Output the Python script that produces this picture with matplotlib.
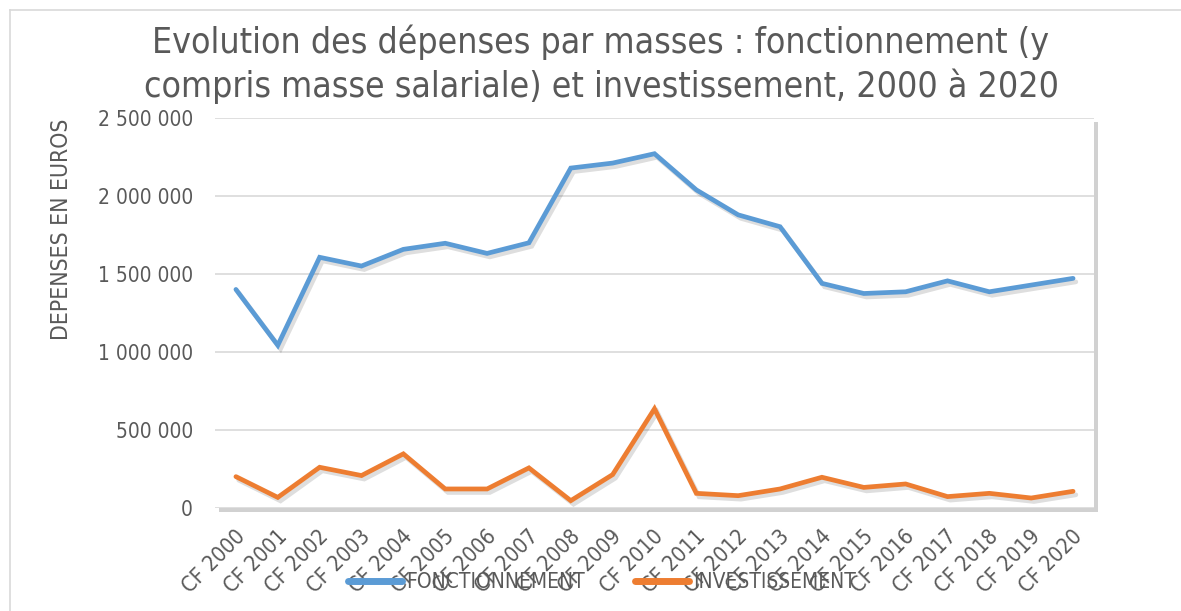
import matplotlib
matplotlib.use("Agg")
import matplotlib.pyplot as plt
import matplotlib.patheffects as pe
from matplotlib.lines import Line2D
from matplotlib.transforms import ScaledTranslation
from matplotlib import font_manager as fm
from matplotlib.ticker import FuncFormatter, MultipleLocator

# ---- data ----
years = ["CF 2000", "CF 2001", "CF 2002", "CF 2003", "CF 2004", "CF 2005", "CF 2006",
         "CF 2007", "CF 2008", "CF 2009", "CF 2010", "CF 2011", "CF 2012", "CF 2013",
         "CF 2014", "CF 2015", "CF 2016", "CF 2017", "CF 2018", "CF 2019", "CF 2020"]
fonctionnement = [1401000, 1043000, 1607000, 1551000, 1658000, 1697000, 1632000,
                  1700000, 2179000, 2211000, 2271000, 2039000, 1879000, 1803000,
                  1440000, 1375000, 1386000, 1456000, 1386000, 1429000, 1472000]
investissement = [201000, 68000, 261000, 208000, 347000, 122000, 122000,
                  257000, 47000, 214000, 636000, 94000, 79000, 122000,
                  197000, 132000, 154000, 73000, 94000, 64000, 107000]
series_names = ["FONCTIONNEMENT", "INVESTISSEMENT"]
title = "Evolution des dépenses par masses : fonctionnement (y\ncompris masse salariale) et investissement, 2000 à 2020"
ylabel = "DEPENSES EN EUROS"

# ---- font ----
def pick_font():
    for f in fm.fontManager.ttflist:
        fn = f.fname.replace("\\", "/").split("/")[-1]
        if fn == "DejaVuSansCondensed.ttf":
            return fm.FontProperties(fname=f.fname)
    for f in fm.fontManager.ttflist:
        if f.name == "DejaVu Sans" and "ondensed" in f.fname and f.weight in (400, "normal") \
                and f.style == "normal":
            return fm.FontProperties(fname=f.fname)
    names = {f.name for f in fm.fontManager.ttflist}
    if "Liberation Sans Narrow" in names:
        return fm.FontProperties(family="Liberation Sans Narrow")
    return fm.FontProperties(family="DejaVu Sans")

base = pick_font()
def fp(size):
    p = base.copy()
    p.set_size(size)
    return p

gray = "#595959"
blue = "#5B9BD5"
orange = "#ED7D31"

W, H = 1181, 611
fig = plt.figure(figsize=(W / 100, H / 100), dpi=100)
ax = fig.add_axes([215 / W, 1 - 508 / H, (1094 - 215) / W, (508 - 118) / H])

# chart frame
fig.add_artist(Line2D([10 / W, 1], [1 - 10 / H, 1 - 10 / H], color="#D9D9D9", lw=1.2,
                      transform=fig.transFigure))
fig.add_artist(Line2D([10 / W, 10 / W], [0, 1 - 10 / H], color="#D9D9D9", lw=1.2,
                      transform=fig.transFigure))

# plot area shadow
ax.patch.set_path_effects([pe.SimplePatchShadow(offset=(3, -3), shadow_rgbFace="#9a9a9a",
                                                alpha=0.45), pe.Normal()])

x = list(range(len(years)))
shadow = [pe.SimpleLineShadow(offset=(2, -2.5), shadow_color="k", alpha=0.13), pe.Normal()]
l1, = ax.plot(x, fonctionnement, color=blue, lw=3.4, solid_joinstyle="miter",
              solid_capstyle="round", path_effects=shadow, zorder=3)
l2, = ax.plot(x, investissement, color=orange, lw=3.4, solid_joinstyle="miter",
              solid_capstyle="round", path_effects=shadow, zorder=3)

ax.set_xlim(-0.5, len(years) - 0.5)
ax.set_ylim(0, 2500000)
ax.yaxis.set_major_locator(MultipleLocator(500000))
ax.yaxis.set_major_formatter(FuncFormatter(lambda v, p: f"{int(v):,}".replace(",", " ")))
ax.grid(axis="y", color="#D9D9D9", lw=1.2)
ax.set_axisbelow(True)
for s in ax.spines.values():
    s.set_visible(False)
ax.tick_params(axis="both", length=0, colors=gray)
ax.tick_params(axis="y", pad=16)
ax.tick_params(axis="x", pad=18)

ax.set_xticks(x)
ax.set_xticklabels(years, rotation=45, ha="right", va="center", rotation_mode="anchor",
                   fontproperties=fp(15.5))
for lbl in ax.get_yticklabels():
    lbl.set_fontproperties(fp(15))
for lbl in ax.get_xticklabels():
    lbl.set_transform(lbl.get_transform() + ScaledTranslation(6 / 100, 0, fig.dpi_scale_trans))

fig.text(62 / W, 1 - 229 / H, ylabel, rotation=90, ha="center", va="center",
         color=gray, fontproperties=fp(16.5))
fig.text(601 / W, 1 - 64 / H, title, ha="center", va="center", color=gray,
         fontproperties=fp(25.6), linespacing=1.3)

leg = fig.legend([l1, l2], series_names, loc="center", bbox_to_anchor=(602 / W, 1 - 582 / H),
                 ncol=2, frameon=False, prop=fp(15), handlelength=2.6, handletextpad=0.2,
                 columnspacing=2.4, labelcolor=gray)
for h in leg.legend_handles:
    h.set_linewidth(5)
    h.set_path_effects([])

fig.savefig("out.png", dpi=100, facecolor="white")
